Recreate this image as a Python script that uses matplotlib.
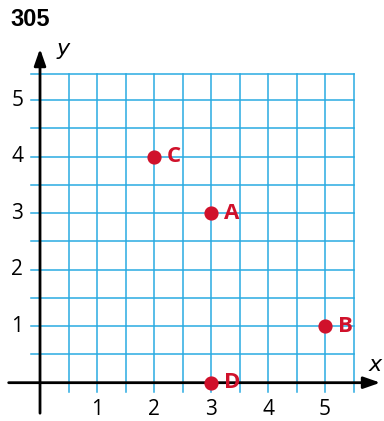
import matplotlib
matplotlib.use('Agg')
import matplotlib.pyplot as plt
import numpy as np

# points on the grid
point_names = ['A', 'B', 'C', 'D']
point_x = [3, 5, 2, 3]
point_y = [3, 1, 4, 0]

x_ticks = [1, 2, 3, 4, 5]
y_ticks = [1, 2, 3, 4, 5]
title = '305'

red = '#d0112b'
blue = '#29abe2'
font = 'Open Sans'

fig = plt.figure(figsize=(3.84, 4.21), dpi=100)
ax = fig.add_axes([0, 0, 1, 1])
ax.axis('off')
ax.set_xlim(-0.702, 6.035)
ax.set_ylim(-0.678, 6.773)

# grid (half unit squares)
top = 5.47
right = 5.5
for gx in np.arange(0.5, right + 0.01, 0.5):
    ax.plot([gx, gx], [-0.17, top], color=blue, lw=1.1, zorder=1)
for gy in np.arange(0.5, top, 0.5):
    ax.plot([-0.16, right], [gy, gy], color=blue, lw=1.1, zorder=1)
ax.plot([-0.16, right], [top, top], color=blue, lw=1.1, zorder=1)

# axes with arrows
ax.annotate('', xy=(5.97, 0), xytext=(-0.55, 0),
            arrowprops=dict(arrowstyle='-|>,head_length=1.0,head_width=0.35',
                            color='black', lw=2.0, shrinkA=0, shrinkB=0), zorder=3)
ax.annotate('', xy=(0, 5.91), xytext=(0, -0.54),
            arrowprops=dict(arrowstyle='-|>,head_length=1.0,head_width=0.35',
                            color='black', lw=2.0, shrinkA=0, shrinkB=0), zorder=3)
ax.text(0.40, 5.90, 'y', fontsize=16, style='italic', family='DejaVu Sans',
        ha='center', va='center')
ax.text(5.88, 0.32, 'x', fontsize=16, style='italic', family='DejaVu Sans',
        ha='center', va='center')

for t in x_ticks:
    ax.text(t, -0.48, str(t), fontsize=15, family=font, ha='center', va='center')
for t in y_ticks:
    ax.text(-0.40, t, str(t), fontsize=15, family=font, ha='center', va='center')

ax.scatter(point_x, point_y, s=85, color=red, zorder=4)
for name, px, py in zip(point_names, point_x, point_y):
    ax.annotate(name, (px, py), xytext=(9.5, 0), textcoords='offset points',
                fontsize=16, fontweight='bold', color=red, family=font,
                ha='left', va='center', zorder=4)

fig.text(10 / 384, 1 - 19 / 421, title, fontsize=17, fontweight='bold',
         family='Liberation Sans', ha='left', va='center')

fig.savefig('out.png', dpi=100)
